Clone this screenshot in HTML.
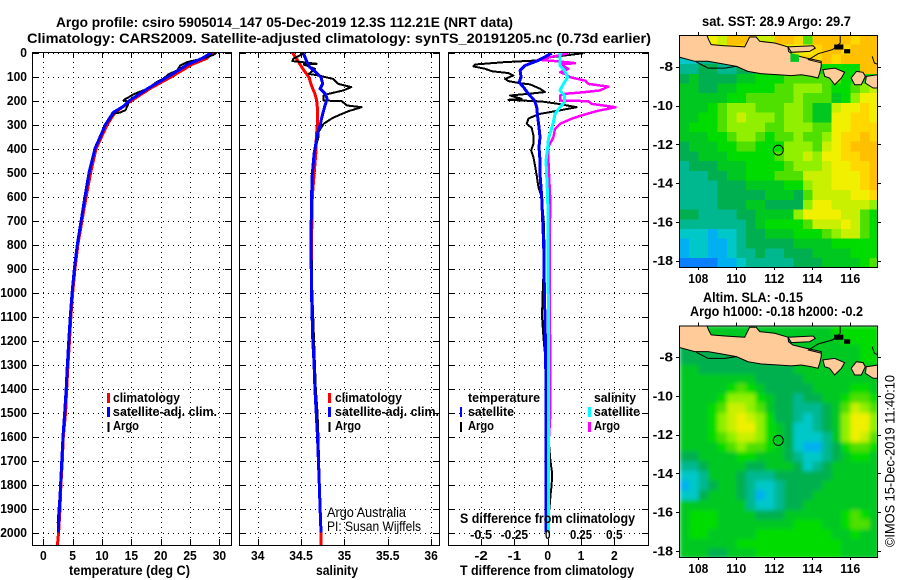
<!DOCTYPE html>
<html>
<head>
<meta charset="utf-8">
<title>Argo profile chart</title>
<style>
html,body{margin:0;padding:0;background:#fff;}
svg{display:block;font-family:"Liberation Sans",sans-serif;}
text{fill:#000;}
.b{font-weight:bold;font-size:14px;}
.t{font-weight:bold;font-size:13px;}
.n{font-weight:normal;font-size:14px;}
</style>
</head>
<body>
<svg id="chart" xmlns="http://www.w3.org/2000/svg" width="900" height="580" viewBox="0 0 900 580">
<defs>
<clipPath id="clip-p1"><rect x="33" y="52" width="198" height="493"/></clipPath>
<clipPath id="clip-p2"><rect x="240" y="52" width="199" height="493"/></clipPath>
<clipPath id="clip-p3"><rect x="449" y="52" width="199" height="493"/></clipPath>
<clipPath id="clip-m1"><rect x="679.5" y="35" width="198" height="232"/></clipPath>
<clipPath id="clip-m2"><rect x="679.5" y="325.5" width="198" height="232"/></clipPath>
<filter id="soft" x="-5%" y="-5%" width="110%" height="110%"><feGaussianBlur stdDeviation="2.2"/></filter>
</defs>
<rect x="0" y="0" width="900" height="580" fill="#fff"/>

<text class="b" x="56" y="27" textLength="457" lengthAdjust="spacingAndGlyphs">Argo profile: csiro 5905014_147 05-Dec-2019 12.3S 112.21E (NRT data)</text>
<text class="b" x="27" y="43" textLength="624" lengthAdjust="spacingAndGlyphs">Climatology: CARS2009. Satellite-adjusted climatology: synTS_20191205.nc (0.73d earlier)</text>

<text class="b" x="69" y="575" textLength="121" lengthAdjust="spacingAndGlyphs">temperature (deg C)</text>
<text class="b" x="316" y="575" textLength="42" lengthAdjust="spacingAndGlyphs">salinity</text>
<text class="b" x="460" y="575" textLength="174" lengthAdjust="spacingAndGlyphs">T difference from climatology</text>

<g id="panel1"></g>
<g id="panel2"></g>
<g id="panel3"></g>

<g>
<rect x="107" y="393" width="3" height="10" fill="#f00"/>
<rect x="107" y="407" width="3" height="10" fill="#00f"/>
<rect x="107.5" y="422" width="2" height="10" fill="#000"/>
<text class="t" x="113" y="402" textLength="67" lengthAdjust="spacingAndGlyphs">climatology</text>
<text class="t" x="113" y="416" textLength="104" lengthAdjust="spacingAndGlyphs">satellite-adj. clim.</text>
<text class="t" x="113" y="430" textLength="26" lengthAdjust="spacingAndGlyphs">Argo</text>
</g>
<g>
<rect x="328" y="393" width="3" height="10" fill="#f00"/>
<rect x="328" y="407" width="3" height="10" fill="#00f"/>
<rect x="328.5" y="422" width="2" height="10" fill="#000"/>
<text class="t" x="335" y="402" textLength="67" lengthAdjust="spacingAndGlyphs">climatology</text>
<text class="t" x="335" y="416" textLength="104" lengthAdjust="spacingAndGlyphs">satellite-adj. clim.</text>
<text class="t" x="335" y="430" textLength="26" lengthAdjust="spacingAndGlyphs">Argo</text>
<text class="n" x="327" y="517" textLength="79" lengthAdjust="spacingAndGlyphs" font-size="13">Argo Australia</text>
<text class="n" x="327" y="531" textLength="94" lengthAdjust="spacingAndGlyphs" font-size="13">PI: Susan Wijffels</text>
</g>
<g>
<text class="t" x="468" y="402" textLength="72" lengthAdjust="spacingAndGlyphs">temperature</text>
<text class="t" x="468" y="416" textLength="46" lengthAdjust="spacingAndGlyphs">satellite</text>
<text class="t" x="468" y="430" textLength="26" lengthAdjust="spacingAndGlyphs">Argo</text>
<rect x="460" y="407" width="2" height="10" fill="#00f"/>
<rect x="460" y="422" width="2" height="10" fill="#000"/>
<text class="t" x="594" y="402" textLength="42" lengthAdjust="spacingAndGlyphs">salinity</text>
<text class="t" x="594" y="416" textLength="46" lengthAdjust="spacingAndGlyphs">satellite</text>
<text class="t" x="594" y="430" textLength="26" lengthAdjust="spacingAndGlyphs">Argo</text>
<rect x="588" y="407" width="3" height="10" fill="#0ff"/>
<rect x="588" y="422" width="3" height="10" fill="#f0f"/>
<text class="b" x="460" y="523" textLength="175" lengthAdjust="spacingAndGlyphs">S difference from climatology</text>
</g>

<g id="map1"></g>
<g id="map2"></g>

<text class="b" x="702" y="26" textLength="149" lengthAdjust="spacingAndGlyphs">sat. SST: 28.9 Argo: 29.7</text>
<text class="b" x="703" y="302" textLength="100" lengthAdjust="spacingAndGlyphs">Altim. SLA: -0.15</text>
<text class="b" x="690" y="316" textLength="173" lengthAdjust="spacingAndGlyphs">Argo h1000: -0.18 h2000: -0.2</text>
<text class="n" transform="translate(894.5,547) rotate(-90)" textLength="172" lengthAdjust="spacingAndGlyphs" font-size="13">©IMOS 15-Dec-2019 11:40:10</text>
</svg>

<script>
// ---- axis tick labels ----
const depthTicks = [0,100,200,300,400,500,600,700,800,900,1000,1100,1200,1300,1400,1500,1600,1700,1800,1900,2000];
const tempTicks = [0,5,10,15,20,25,30];
const salTicks = [34,34.5,35,35.5,36];
const diffTTicks = [-2,-1,0,1,2];
const diffSTicks = [-0.5,-0.25,0,0.25,0.5];
const lonTicks = [108,110,112,114,116];
const latTicks = [-8,-10,-12,-14,-16,-18];

// ---- temperature profiles ----
const tClimDepth = [0,25,50,100,150,200,250,300,400,500,600,700,800,900,1000,1100,1200,1300,1400,1500,1600,1700,1800,1900,2000,2054];
const tClimVal = [29.0,27.8,25.3,21.9,18.2,15.06,12.2,10.9,9.0,8.07,7.3,6.6,5.9,5.4,5.0,4.7,4.46,4.2,3.98,3.8,3.4,3.24,3.0,2.85,2.6,2.4];
const tSatDepth = [0,25,50,100,150,200,225,250,300,400,500,600,700,800,900,1000,1100,1200,1300,1400,1500,1600,1700,1800,1900,2000];
const tSatVal = [28.7,27.0,24.6,21.3,17.8,14.7,13.6,11.9,10.6,8.8,7.8,7.1,6.45,5.8,5.3,4.9,4.6,4.35,4.1,3.9,3.65,3.35,3.15,2.95,2.75,2.55];
const tArgoDepth = [0,10,25,40,55,75,90,110,125,150,175,180,195,200,205,220,240,250,255,300,400,500,600,700,800,900,1000,1200,1400,1600,1800,1960];
const tArgoVal = [29.5,29,27.2,24.5,23.3,22.8,21.4,20.4,19.2,17.8,15.3,15,13.9,13.7,14.5,14.4,14,13.1,12,10.7,8.9,7.8,7.1,6.4,5.8,5.3,4.9,4.3,3.85,3.3,2.9,2.45];

// ---- salinity profiles ----
const sClimDepth = [0,33,68,103,138,172,200,235,297,332,367,400,465,600,800,1000,1200,1300,1400,1500,1600,1700,1800,1900,2000,2054];
const sClimVal = [34.40,34.46,34.52,34.59,34.62,34.66,34.68,34.69,34.69,34.68,34.675,34.675,34.66,34.63,34.62,34.62,34.64,34.65,34.66,34.68,34.69,34.70,34.71,34.72,34.73,34.73];
const sSatDepth = [6,33,61,82,103,130,151,172,193,228,269,304,339,380,422,464,506,603,800,1000,1200,1300,1400,1500,1600,1700,1800,1900,2000];
const sSatVal = [34.53,34.56,34.60,34.67,34.73,34.75,34.72,34.78,34.80,34.77,34.74,34.72,34.69,34.67,34.65,34.64,34.63,34.62,34.615,34.62,34.635,34.65,34.66,34.675,34.69,34.70,34.71,34.72,34.73];
const sArgoDepth = [3,12,26,36,40,47,50,68,89,96,110,131,144,158,172,179,200,203,221,228,244,262,276,297,332,353,394,436,506,603,800,1000,1400,1500,1600,1800,1950];
const sArgoVal = [34.54,34.49,34.41,34.40,34.51,34.68,34.53,34.66,34.59,34.70,34.87,34.93,35.08,34.99,34.82,34.76,34.76,34.97,35.03,35.20,35.05,34.93,34.85,34.76,34.70,34.70,34.67,34.65,34.63,34.62,34.62,34.63,34.67,34.69,34.70,34.715,34.72];

// ---- difference profiles ----
const dTSatDepth = [3,33,54,75,103,124,144,172,200,228,269,311,353,394,450,506,603,700,800,1000,1200,1400,1600,2000];
const dTSatVal = [0.12,-0.28,-0.68,-0.83,-0.80,-0.86,-0.73,-0.58,-0.40,-0.33,-0.30,-0.26,-0.23,-0.26,-0.23,-0.23,-0.18,-0.15,-0.12,-0.10,-0.07,-0.05,-0.05,-0.05];
const dTArgoDepth = [3,19,33,40,50,58,68,78,86,96,110,119,128,133,151,165,172,179,193,197,204,214,228,242,256,263,276,297,314,346,381,408,436,471,512,561,603,700,800,900,1000,1100,1200,1300,1400,1500,1600,1700,1750,1800,1850,1900,1950];
const dTArgoVal = [1.07,0.12,-0.28,-1.28,-2.18,-2.23,-1.88,-1.68,-1.18,-1.03,-1.28,-1.18,-0.83,-0.53,-0.23,-0.08,-0.58,-1.13,-0.78,-1.18,-0.18,0.32,0.87,0.32,-0.23,-0.38,-0.58,-0.63,-0.48,-0.43,-0.43,-0.5,-0.43,-0.38,-0.33,-0.28,-0.18,-0.12,-0.10,-0.12,-0.15,-0.17,-0.12,-0.05,-0.03,0,0.02,0.08,0.13,0.12,0.08,0.05,0];
const dSSatDepth = [3,26,54,75,103,131,158,179,208,228,256,290,325,360,394,450,506,603,800,1200,1600,2000];
const dSSatVal = [0.0925,0.0925,0.0925,0.125,0.15,0.118,0.0925,0.125,0.125,0.0925,0.055,0.043,0.025,0.005,0,-0.013,-0.008,0,0.003,0.005,0.005,0.005];
const dSArgoDepth = [3,12,30,36,44,50,68,82,89,103,117,131,142,158,165,172,179,200,203,214,228,244,262,276,297,318,353,394,450,506,603,1000,1400,1500,1600,1660,1870,1950];
const dSArgoVal = [0.155,0.08,-0.07,0.055,0.205,0.093,0.155,0.093,0.13,0.168,0.28,0.305,0.455,0.393,0.28,0.13,0.093,0.093,0.305,0.33,0.51,0.368,0.255,0.18,0.093,0.055,0.043,0.005,0.005,0.01,0.018,0.015,0.02,0.02,0.01,-0.01,-0.01,0];

// ---- map heat grids: one hex-coded colour class per 0.5 degree cell, north to south ----
const palette = ["#0a80ff","#00b0f0","#00c8c8","#00b890","#00b050","#00c820","#00dc00","#50e000","#90f000","#c8f000","#f0f000","#ffd800","#ffc000","#ff9800"];
const sstRows = [
"999a9ccc99ccb7ccccbcc","aaaaabbaabbaaabccbccc","223344556bbbbbbcbcccc","3344334456666666666cc",
"454444556667777776666","554455666677888766789","555556677777877756"+"8aa","5556788877788755"+"9aaba",
"5566789888788755"+"aabba","5666788887788877"+"aabbb","5556678876778778"+"abbcb","4555667766688879"+"abccc",
"445556666678898a"+"abbcc","3444555666678889"+"aabbc","3334455666777999aaabc","3333444555566899aaabc",
"333344444555479999aab","333344455444"+"48aa99998","443333445555"+"8aaaa9976","333333345666"+"67999a976",
"222122344555"+"666789976","1221123444445555"+"66666","1221123343344455"+"55666","0000112333334445"+"55567"];
const slaRows = [
"555555555555555566666","555555555555555556666","444444554455555555566","444444444455555555566",
"554444444444555555555","555555554444455555555","555556765444445555665","555568886544344556776",
"555679987544333457987","555689a98644323458aa8","555689aa8654223458aa8","555678998654222358a97",
"555567877654211346776","445555665554322345665","334555544555423455555","223555433344444455555",
"123455432234444555555","224555431234445555555","555555532234455555555","566655554445555556765",
"566655555555666556775","566555556666666655655","555555666666666665555","555445556666666665555"];

// ---- coastline polygons in [lon,lat] ----
const javaCoast = [[106.9,-6.3],[108.42,-6.3],[108.54,-6.61],[108.68,-6.86],[109.39,-6.92],[109.91,-6.95],[110.44,-6.98],[110.70,-6.47],[111.05,-6.47],[111.23,-6.69],[112.02,-6.78],[112.72,-6.98],[112.75,-7.21],[112.98,-7.38],[113.68,-7.55],[114.47,-7.72],[114.47,-7.98],[114.39,-8.32],[114.30,-8.58],[113.95,-8.50],[113.42,-8.41],[112.90,-8.46],[112.19,-8.41],[111.32,-8.36],[110.61,-8.24],[110.0,-7.98],[109.21,-7.84],[108.51,-7.72],[107.81,-7.72],[106.9,-7.48]];
const maduraCoast = [[112.72,-6.98],[114.04,-6.92],[114.16,-7.04],[113.86,-7.21],[112.90,-7.26]];
const baliCoast = [[114.56,-8.15],[115.18,-8.07],[115.70,-8.29],[115.53,-8.58],[115.18,-8.93],[114.91,-8.58],[114.65,-8.50]];
const lombokCoast = [[116.05,-8.58],[116.32,-8.24],[116.67,-8.29],[116.79,-8.50],[116.58,-8.93],[116.23,-8.93]];
const sumbawaCoast = [[116.84,-8.50],[117.45,-8.41],[117.6,-8.46],[117.6,-9.1],[117.2,-9.1],[116.79,-8.84]];
const kangeanIsle = [[115.18,-6.88],[115.61,-6.88],[115.61,-7.09],[115.18,-7.09]];
const smallIsle = [[115.70,-7.12],[115.97,-7.12],[115.97,-7.29],[115.70,-7.29]];
const northLine = [[115.47,-6.3],[115.47,-6.78],[115.07,-7.12],[114.31,-7.33],[113.8,-7.64],[114.47,-7.8]];
const southLine = [[107.9,-7.76],[108.51,-8.07],[109.39,-8.07],[110.0,-7.98],[110.61,-8.24]];
const eastLine = [[117.15,-7.47],[117.27,-7.81],[117.5,-7.9]];
const sstPatch = [[112.85,-7.3],[113.3,-7.38],[113.3,-7.75],[112.85,-7.75]];

// ---- float position ----
const floatLon = 112.21;
const floatLat = -12.3;

// ---- scales ----
const NS = "http://www.w3.org/2000/svg";
function yDepth(d){return 52.5 + d*0.24;}
function xTemp(t){return 43.3 + t*5.87;}
function xSal(s){return 257.7 + (s-34)*86.7;}
function xDT(t){return 547.7 + t*33.3;}
function xDS(s){return 547.7 + s*133.2;}
function xLon(l){return 679.3 + (l-107)*19;}
function yLat(l,base){return base + (-8-l)*19.4;}

function el(tag,parent){const e=document.createElementNS(NS,tag);parent.appendChild(e);return e;}

function label(parent,txt,x,y,anchor,w,cls){
  const t=el('text',parent);
  t.setAttribute('class',cls||'t');
  t.setAttribute('x',x);t.setAttribute('y',y);
  t.setAttribute('text-anchor',anchor);
  t.setAttribute('textLength',w);
  t.setAttribute('lengthAdjust','spacingAndGlyphs');
  t.textContent=txt;
  return t;
}

function frame(parent,x0,y0,x1,y1){
  const r=el('rect',parent);
  
  
  r.setAttribute('x',x0+0.5);r.setAttribute('y',y0+0.5);
  r.setAttribute('width',x1-x0);r.setAttribute('height',y1-y0);
  r.setAttribute('fill','none');r.setAttribute('stroke','#000');r.setAttribute('stroke-width','1');
  r.setAttribute('shape-rendering','crispEdges');
}

function seg(parent,x1,y1,x2,y2,dotted){
  const l=el('line',parent);
  l.setAttribute('x1',x1);l.setAttribute('y1',y1);l.setAttribute('x2',x2);l.setAttribute('y2',y2);
  l.setAttribute('stroke','#000');l.setAttribute('stroke-width','1');
  l.setAttribute('shape-rendering','crispEdges');
  if(dotted)l.setAttribute('stroke-dasharray','1 4');
  return l;
}

function grid(parent,x0,x1,top,bottom,xs){
  depthTicks.forEach(d=>{
    const y=Math.round(yDepth(d))+0.5;
    const g=seg(parent,x0,y,x1,y,true);
    
    
    const a=seg(parent,x0,y,x0+6,y,false);
    
    
    const b=seg(parent,x1-6,y,x1,y,false);
    
    
  });
  xs.forEach(x=>{
    const rx=Math.round(x)+0.5;
    const g=seg(parent,rx,top,rx,bottom,true);
    
    
    const a=seg(parent,rx,top,rx,top+6,false);
    
    
    const b=seg(parent,rx,bottom-6,rx,bottom,false);
    
    
  });
}

function profile(parent,depths,vals,xf,color,width,clip,name){
  const p=el('path',parent);
  
  
  p.setAttribute('d',depths.map((d,i)=>(i?'L':'M')+xf(vals[i]).toFixed(1)+' '+yDepth(d).toFixed(1)).join(''));
  p.setAttribute('fill','none');p.setAttribute('stroke',color);p.setAttribute('stroke-width',width);
  p.setAttribute('stroke-linejoin','round');
  p.setAttribute('shape-rendering','crispEdges');
  p.setAttribute('clip-path','url(#'+clip+')');
}

// ---- panel 1: temperature ----
const p1=document.getElementById('panel1');
grid(p1,33,231,52,545,tempTicks.map(xTemp));
profile(p1,tClimDepth,tClimVal,xTemp,'#f00',3,'clip-p1','temperature-climatology-line');
profile(p1,tArgoDepth,tArgoVal,xTemp,'#000',2,'clip-p1','temperature-argo-line');
profile(p1,tSatDepth,tSatVal,xTemp,'#00f',3,'clip-p1','temperature-satellite-line');
frame(p1,32,52,231,545);
depthTicks.forEach(d=>{
  const t=label(p1,String(d),27,yDepth(d)+4.5,'end',String(d).length*6.7);
  
  
});
tempTicks.forEach(v=>{
  const t=label(p1,String(v),xTemp(v),560,'middle',String(v).length*6.7);
  
  
});

// ---- panel 2: salinity ----
const p2=document.getElementById('panel2');
grid(p2,240,439,52,545,salTicks.map(xSal));
profile(p2,sClimDepth,sClimVal,xSal,'#f00',3,'clip-p2','salinity-climatology-line');
profile(p2,sArgoDepth,sArgoVal,xSal,'#000',2,'clip-p2','salinity-argo-line');
profile(p2,sSatDepth,sSatVal,xSal,'#00f',3,'clip-p2','salinity-satellite-line');
frame(p2,239,52,439,545);
salTicks.forEach(v=>{
  const t=label(p2,String(v),xSal(v),560,'middle',String(v).length*(String(v).length>2?5.9:6.7));
  
  
});

// ---- panel 3: differences ----
const p3=document.getElementById('panel3');
grid(p3,449,648,52,545,diffTTicks.map(xDT));
profile(p3,dTArgoDepth,dTArgoVal,xDT,'#000',2,'clip-p3','t-difference-argo-line');
profile(p3,dSArgoDepth,dSArgoVal,xDS,'#f0f',2.5,'clip-p3','s-difference-argo-line');
profile(p3,dTSatDepth,dTSatVal,xDT,'#00f',3,'clip-p3','t-difference-satellite-line');
profile(p3,dSSatDepth,dSSatVal,xDS,'#0ff',3,'clip-p3','s-difference-satellite-line');
frame(p3,448,52,648,545);
diffTTicks.forEach(v=>{
  const t=label(p3,String(v),xDT(v),560,'middle',String(v).length*6.7);
  
  
});
diffSTicks.forEach(v=>{
  const s=String(v);
  const t=label(p3,s,xDS(v),539,'middle',s.length*5.5);
  
  
});

// ---- maps ----
function poly(parent,pts,base,fill,stroke,closed,name){
  const p=el('path',parent);
  
  
  p.setAttribute('d',pts.map((c,i)=>(i?'L':'M')+xLon(c[0]).toFixed(1)+' '+yLat(c[1],base).toFixed(1)).join('')+(closed?'Z':''));
  p.setAttribute('fill',fill);
  p.setAttribute('stroke',stroke);
  p.setAttribute('stroke-width','1');
  return p;
}

function drawMap(id,rows,base,top,bottom,clip,blur){
  const m=document.getElementById(id);
  const clipped=el('g',m);
  clipped.setAttribute('clip-path','url(#'+clip+')');
  const cells=el('g',clipped);
  if(blur)cells.setAttribute('filter','url(#soft)');
  const latTop=-8+(base-top)/19.4;
  rows.forEach((row,r)=>{
    for(let c=0;c<row.length;c++){
      const lat=latTop-0.5*r;
      const lon=107+0.5*c;
      const cell=el('rect',cells);
      
      
      const x0=xLon(lon),x1=xLon(lon+0.5),y0=yLat(lat,base),y1=yLat(lat-0.5,base);
      cell.setAttribute('x',x0.toFixed(1));
      cell.setAttribute('y',y0.toFixed(1));
      cell.setAttribute('width',(x1-x0+0.6).toFixed(1));
      cell.setAttribute('height',(y1-y0+0.6).toFixed(1));
      cell.setAttribute('fill',palette[parseInt(row[c],16)]);
      cell.setAttribute('shape-rendering','crispEdges');
    }
  });
  poly(clipped,javaCoast,base,'#ffcc99','#000',true,'java-land');
  poly(clipped,maduraCoast,base,'#ffcc99','#000',true,'madura-land');
  poly(clipped,baliCoast,base,'#ffcc99','#000',true,'bali-land');
  poly(clipped,lombokCoast,base,'#ffcc99','#000',true,'lombok-land');
  poly(clipped,sumbawaCoast,base,'#ffcc99','#000',true,'sumbawa-land');
  poly(clipped,kangeanIsle,base,'#000','#000',true,'small-island');
  poly(clipped,smallIsle,base,'#000','#000',true,'small-island');
  poly(clipped,northLine,base,'none','#000',false,'coast-line');
  poly(clipped,southLine,base,'none','#000',false,'coast-line');
  poly(clipped,eastLine,base,'none','#000',false,'coast-line');
  const circle=el('circle',clipped);
  
  
  circle.setAttribute('cx',xLon(floatLon));
  circle.setAttribute('cy',yLat(floatLat,base));
  circle.setAttribute('r','5');
  circle.setAttribute('fill','none');
  circle.setAttribute('stroke','#000');
  circle.setAttribute('stroke-width','1');
  lonTicks.forEach(v=>{
    const x=Math.round(xLon(v))+0.5;
    const a=seg(m,x,top-3,x,top,false);
    
    
    const b=seg(m,x,bottom,x,bottom+3,false);
    
    
    const t=label(m,String(v),xLon(v),bottom+16,'middle',20);
    
    
  });
  latTicks.forEach(v=>{
    const y=Math.round(yLat(v,base))+0.5;
    const a=seg(m,676,y,679,y,false);
    
    
    const b=seg(m,878,y,881,y,false);
    
    
    const s=String(v);
    const t=label(m,s,673,yLat(v,base)+4.5,'end',s.length*6.8);
    
    
  });
  frame(m,679,top,877,bottom);
  return clipped;
}
const m1=drawMap('map1',sstRows,66.7,35,267,'clip-m1',false);
const patch=poly(m1,sstPatch,66.7,palette[5],'none',true,'sst-patch-over-strait');
drawMap('map2',slaRows,357,325.5,557,'clip-m2',true);
</script>
</body>
</html>
